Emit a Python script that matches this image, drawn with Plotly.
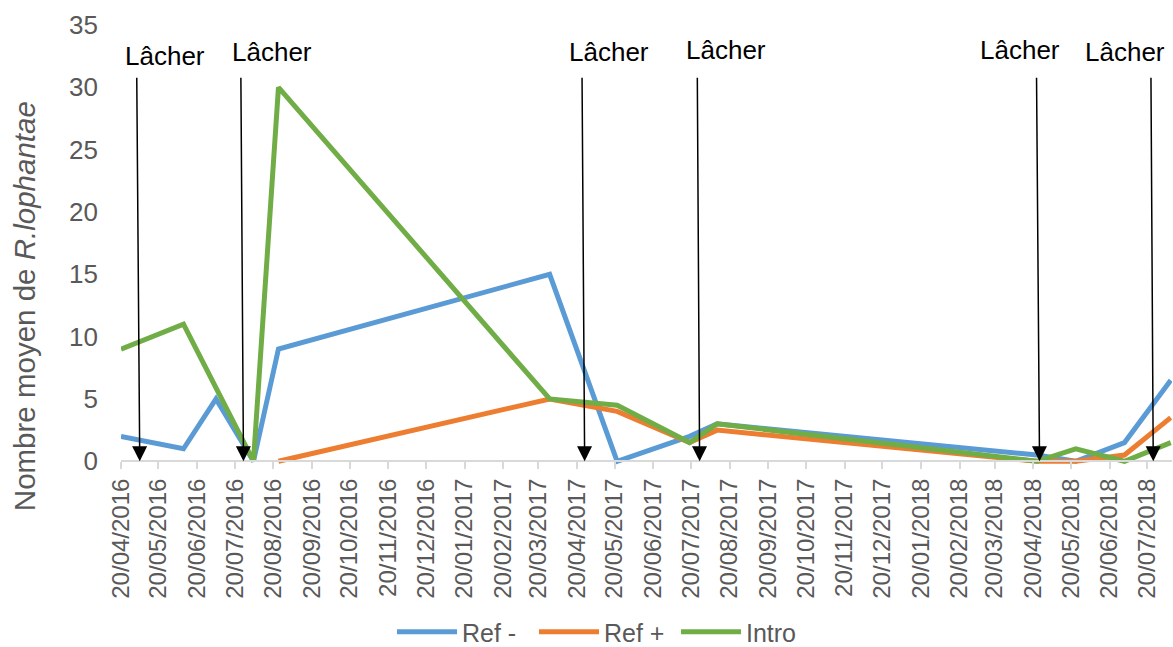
import plotly.graph_objects as go
from datetime import datetime

# ---------------- data ----------------
dates = ["2016-04-20", "2016-06-09", "2016-07-05", "2016-08-04", "2016-08-24",
         "2017-03-29", "2017-05-22", "2017-07-19", "2017-08-10",
         "2018-04-23", "2018-05-24", "2018-07-02", "2018-08-08"]
ref_minus = [2, 1, 5, 0, 9, 15, 0, 2, 3, 0.5, 0, 1.5, 6.5]
ref_plus = [None, None, None, None, 0, 5, 4, 1.5, 2.5, 0, 0, 0.5, 3.5]
intro = [9, 11, None, 0, 30, 5, 4.5, 1.5, 3, 0, 1, 0, 1.5]

release_dates = ["2016-05-05", "2016-07-27", "2017-04-26", "2017-07-27",
                 "2018-04-25", "2018-07-25"]
release_label = "Lâcher"

tick_labels = ["20/04/2016", "20/05/2016", "20/06/2016", "20/07/2016", "20/08/2016",
               "20/09/2016", "20/10/2016", "20/11/2016", "20/12/2016", "20/01/2017",
               "20/02/2017", "20/03/2017", "20/04/2017", "20/05/2017", "20/06/2017",
               "20/07/2017", "20/08/2017", "20/09/2017", "20/10/2017", "20/11/2017",
               "20/12/2017", "20/01/2018", "20/02/2018", "20/03/2018", "20/04/2018",
               "20/05/2018", "20/06/2018", "20/07/2018"]
tick_vals = [datetime.strptime(t, "%d/%m/%Y").strftime("%Y-%m-%d") for t in tick_labels]

series_names = ["Ref -", "Ref +", "Intro"]
series_values = [ref_minus, ref_plus, intro]

# ---------------- styles ----------------
colors = ["#5B9BD5", "#ED7D31", "#70AD47"]
FONT = "Liberation Sans, Arial, sans-serif"
GREY = "#595959"
W, H = 1173, 647
TOP = 25
Y0_PX = 461          # pixel row of value 0
YMAX = 35
YPAD = 0.3           # small pad below 0 so lines at 0 are not clipped
plot_h = (Y0_PX - TOP) * (YMAX + YPAD) / YMAX
bottom_margin = H - TOP - plot_h
L, R = 121, 1

def px_y(p):  # pixel row -> paper y
    return (TOP + plot_h - p) / plot_h

def px_x(p):  # pixel column -> paper x
    return (p - L) / (W - L - R)

fig = go.Figure()
for name, vals, c in zip(series_names, series_values, colors):
    fig.add_trace(go.Scatter(x=dates, y=vals, name=name, mode="lines",
                             line=dict(color=c, width=5), connectgaps=True))

annotations = []
# arrows
arrow_tilt = [-3, -2.6, -2.6, -2.3, -3, -2.3]
label_dx = [25, 29, 24, 26, -20, -28]
label_y = [56, 52, 52, 50, 50, 52]
for d, tilt, dx, ly in zip(release_dates, arrow_tilt, label_dx, label_y):
    annotations.append(dict(x=d, y=0, xref="x", yref="y", text="", showarrow=True,
                            ax=tilt, ay=-(Y0_PX - 76), arrowhead=2, arrowsize=2,
                            arrowwidth=1.5, arrowcolor="black"))
    annotations.append(dict(x=d, y=px_y(ly), xref="x", yref="paper", xshift=dx,
                            text=release_label, showarrow=False, xanchor="center",
                            yanchor="middle", font=dict(family=FONT, size=26, color="black")))
# y axis title
annotations.append(dict(x=px_x(24), y=px_y(306), xref="paper", yref="paper",
                        text="Nombre moyen de <i>R.lophantae</i>", textangle=-90,
                        showarrow=False, xanchor="center", yanchor="middle",
                        font=dict(family=FONT, size=29.5, color=GREY)))

fig.update_layout(
    width=W, height=H, autosize=False,
    margin=dict(l=L, r=R, t=TOP, b=bottom_margin, pad=0),
    paper_bgcolor="white", plot_bgcolor="white",
    font=dict(family=FONT, color=GREY, size=24),
    showlegend=True,
    legend=dict(orientation="h", xref="container", yref="container",
                x=392 / W, y=1 - 632 / H, xanchor="left", yanchor="middle",
                font=dict(family=FONT, size=25, color=GREY),
                entrywidth=67, itemwidth=60, bgcolor="rgba(0,0,0,0)"),
    annotations=annotations,
    xaxis=dict(type="date", range=["2016-04-20", "2018-08-09"],
               tickvals=tick_vals, ticktext=tick_labels, tickangle=-90,
               showgrid=False, zeroline=False, showline=True, linecolor="#D9D9D9",
               linewidth=1.5, ticks="outside", ticklen=7, tickcolor="#D9D9D9",
               tickwidth=1.5, anchor="free", position=YPAD / (YMAX + YPAD),
               automargin=False,
               tickfont=dict(family=FONT, size=24, color=GREY)),
    yaxis=dict(range=[-YPAD, YMAX], tickvals=[0, 5, 10, 15, 20, 25, 30, 35],
               showgrid=False, zeroline=False, showline=False, ticks="",
               ticklabelstandoff=22, automargin=False,
               tickfont=dict(family=FONT, size=26, color=GREY)),
)

fig.write_html("out.html",
               config={"displayModeBar": False},
               post_script="document.body.style.margin='0';"
                           "document.body.style.overflow='hidden';")
